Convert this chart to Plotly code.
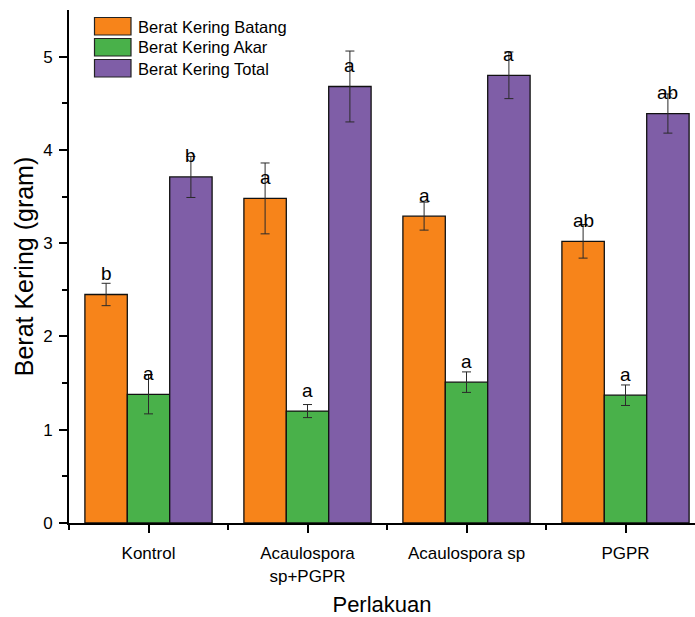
import plotly.graph_objects as go

categories = ["Kontrol", "Acaulospora<br>sp+PGPR", "Acaulospora sp", "PGPR"]
series_names = ["Berat Kering Batang", "Berat Kering Akar", "Berat Kering Total"]

batang = [2.45, 3.48, 3.29, 3.02]
batang_err = [0.12, 0.38, 0.15, 0.18]
akar = [1.38, 1.20, 1.51, 1.37]
akar_err = [0.21, 0.07, 0.11, 0.11]
total = [3.71, 4.68, 4.80, 4.39]
total_err = [0.22, 0.38, 0.25, 0.21]

letters_batang = ["b", "a", "a", "ab"]
letters_akar = ["a", "a", "a", "a"]
letters_total = ["b", "a", "a", "ab"]

colors = ["#F7841A", "#49B14A", "#7F5EA7"]

values = [batang, akar, total]
errors = [batang_err, akar_err, total_err]
letters = [letters_batang, letters_akar, letters_total]

FONT = "Liberation Sans, Arial, sans-serif"
xpos = list(range(len(categories)))

fig = go.Figure()
for k in range(3):
    fig.add_trace(go.Bar(
        x=xpos, y=values[k], name=series_names[k],
        marker=dict(color=colors[k], line=dict(color="#111111", width=1.3)),
        error_y=dict(type="data", array=errors[k], visible=True,
                     color="#2a2a2a", thickness=1, width=4.5),
        showlegend=False,
    ))

# significance letters above bars
bargap = 0.2
bw = (1 - bargap) / 3
for k in range(3):
    for i in range(len(categories)):
        fig.add_annotation(
            x=i + (k - 1) * bw, y=values[k][i], text=letters[k][i],
            showarrow=False, yanchor="middle", yshift=21,
            font=dict(family=FONT, size=19, color="#000000"),
        )

# manual legend (plot area: x 69..695, y 10..523 px)
L, R, T, B = 69, 695, 10, 523
def px_x(p):
    return (p - L) / (R - L)
def px_y(p):
    return (B - p) / (B - T)

row_tops = [17.5, 38.5, 59.5]
for k in range(3):
    fig.add_shape(type="rect", xref="paper", yref="paper",
                  x0=px_x(94.5), x1=px_x(131), y0=px_y(row_tops[k] + 17.5), y1=px_y(row_tops[k]),
                  fillcolor=colors[k], line=dict(color="#222222", width=1.2), layer="above")
    fig.add_annotation(xref="paper", yref="paper", x=px_x(136), y=px_y(row_tops[k] + 9),
                       text=series_names[k], showarrow=False, xanchor="left", yanchor="middle",
                       font=dict(family=FONT, size=16.5, color="#000000"))

fig.update_layout(
    width=695, height=617,
    margin=dict(l=L, r=695 - R, t=T, b=617 - B),
    plot_bgcolor="white", paper_bgcolor="white",
    barmode="group", bargap=bargap, bargroupgap=0,
    font=dict(family=FONT, color="#000000"),
    xaxis=dict(
        range=[-0.5, -0.5 + (R - L) / 159.0],
        tickvals=xpos, ticktext=categories,
        tickfont=dict(family=FONT, size=17, color="#000000"),
        ticklabelstandoff=6,
        showline=True, linecolor="#000000", linewidth=2,
        ticks="outside", ticklen=8, tickwidth=1.6, tickcolor="#000000",
        minor=dict(tickvals=[-0.5, 0.5, 1.5, 2.5], ticks="outside", ticklen=5,
                   tickwidth=1.6, tickcolor="#000000"),
        showgrid=False, zeroline=False,
        title=dict(text="Perlakuan", font=dict(family=FONT, size=22, color="#000000"), standoff=13),
        automargin=False,
    ),
    yaxis=dict(
        range=[0, 5.5],
        tickvals=[0, 1, 2, 3, 4, 5],
        tickfont=dict(family=FONT, size=17, color="#000000"),
        ticklabelstandoff=3,
        showline=True, linecolor="#000000", linewidth=2,
        ticks="outside", ticklen=8, tickwidth=1.6, tickcolor="#000000",
        minor=dict(tickvals=[0.5, 1.5, 2.5, 3.5, 4.5], ticks="outside", ticklen=5,
                   tickwidth=1.6, tickcolor="#000000"),
        showgrid=False, zeroline=False,
        title=dict(text="Berat Kering (gram)", font=dict(family=FONT, size=25, color="#000000"), standoff=2),
        automargin=False,
    ),
)

fig.write_html("out.html", config={"displayModeBar": False},
               post_script="document.body.style.margin='0';document.body.style.padding='0';")
